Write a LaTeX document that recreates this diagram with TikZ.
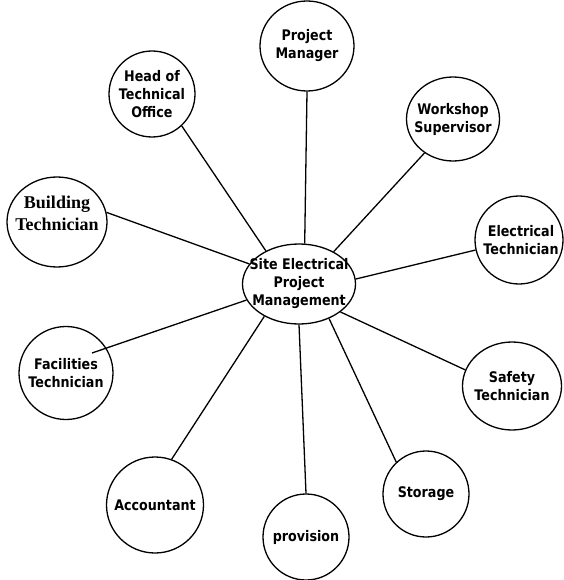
\documentclass[tikz,border=0pt]{standalone}
\usepackage{fontspec}
\usetikzlibrary{shapes.geometric}
\newfontfamily\vfont{DejaVu Sans}[FakeStretch=0.87]
\newfontfamily\tfont{Liberation Serif}
\tikzset{
  bub/.style={draw, ellipse, line width=1.3pt, inner sep=0pt},
  lbl/.style={align=center, inner sep=0pt, font=\vfont\bfseries\fontsize{14.6}{18}\selectfont},
  tlbl/.style={align=center, inner sep=0pt, font=\tfont\bfseries\fontsize{18}{22}\selectfont},
  link/.style={line width=1.3pt}
}
\begin{document}
\begin{tikzpicture}[x=1pt,y=1pt]
\useasboundingbox (0,0) rectangle (563,-580);
\node[bub, minimum width=113pt, minimum height=80pt, label={[lbl]center:Site Electrical\\Project\\Management}] (c) at (299,-284) {};
\node[bub, minimum width=94pt, minimum height=90pt, label={[lbl]center:Project\\Manager}] (pm) at (307,-46) {};
\node[bub, minimum width=86pt, minimum height=86pt, label={[lbl]center:Head of\\Technical\\Office}] (ho) at (152,-94) {};
\node[bub, minimum width=93pt, minimum height=84pt, label={[lbl]center:Workshop\\Supervisor}] (ws) at (453,-119) {};
\node[bub, minimum width=100pt, minimum height=90pt, label={[tlbl,yshift=9pt]center:Building\\Technician}] (bt) at (57,-222) {};
\node[bub, minimum width=88pt, minimum height=88pt, label={[lbl,xshift=2pt]center:Electrical\\Technician}] (et) at (519,-240) {};
\node[bub, minimum width=94pt, minimum height=93pt, label={[lbl]center:Facilities\\Technician}] (ft) at (66,-373) {};
\node[bub, minimum width=99pt, minimum height=88pt, label={[lbl]center:Safety\\Technician}] (st) at (512,-386) {};
\node[bub, minimum width=97pt, minimum height=96pt, label={[lbl]center:Accountant}] (acc) at (155,-505) {};
\node[bub, minimum width=86pt, minimum height=86pt, label={[lbl]center:provision}] (pv) at (306,-537) {};
\node[bub, minimum width=86pt, minimum height=86pt, label={[lbl]center:Storage}] (sg) at (426,-494) {};
\coordinate (fe) at (92,-353);
\draw[link] (c.82) -- (pm.south);
\draw[link] (c.135) -- (ho.-47);
\draw[link] (c.43) -- (ws.230);
\draw[link] (c.5) -- (et.193);
\draw[link] (c.-34) -- (st.161);
\draw[link] (c.-49) -- (sg.133);
\draw[link] (c.-90) -- (pv.north);
\draw[link] (c.223) -- (acc.70);
\draw[link] (c.197) -- (fe);
\draw[link] (c.158) -- (bt.11);
\end{tikzpicture}
\end{document}
